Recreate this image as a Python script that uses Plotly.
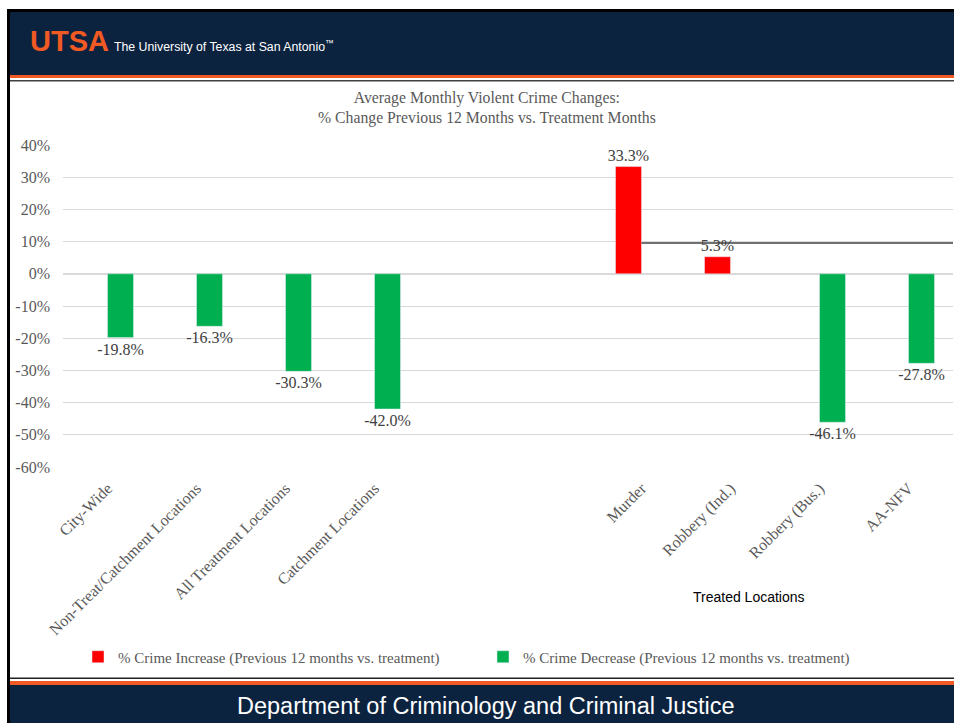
import plotly.graph_objects as go

# ---- data ----
categories = ["City-Wide", "Non-Treat/Catchment Locations", "All Treatment Locations",
              "Catchment Locations", "", "", "Murder", "Robbery (Ind.)",
              "Robbery (Bus.)", "AA-NFV"]
increase_pos = [6, 7]
increase_vals = [33.3, 5.3]
decrease_pos = [0, 1, 2, 3, 8, 9]
decrease_vals = [-19.8, -16.3, -30.3, -42.0, -46.1, -27.8]
y_ticks = [40, 30, 20, 10, 0, -10, -20, -30, -40, -50, -60]

W, H = 954, 723
L, R, T, B = 63, 953, 145, 467  # plot area in px

def px(x):
    return (x - L) / (R - L)

def py(y):
    return (B - y) / (B - T)

NAVY = "#0c2340"
ORANGE = "#f15a22"
SERIF = "Liberation Serif"
SANS = "Liberation Sans"
GRAY = "#595959"
BW = 0.292  # bar width in category units

fig = go.Figure()
fig.add_trace(go.Bar(
    x=increase_pos, y=increase_vals, name="% Crime Increase (Previous 12 months vs. treatment)",
    marker_color="#ff0000", width=BW, offset=-BW, texttemplate="%{y:.1f}%", textposition="outside",
    constraintext="none", hoverinfo="skip",
    textfont=dict(family=SERIF, size=16, color="#404040"), cliponaxis=False,
))
fig.add_trace(go.Bar(
    x=decrease_pos, y=decrease_vals, name="% Crime Decrease (Previous 12 months vs. treatment)",
    marker_color="#00b050", width=BW, offset=0, texttemplate="%{y:.1f}%", textposition="outside",
    constraintext="none", hoverinfo="skip",
    textfont=dict(family=SERIF, size=16, color="#404040"), cliponaxis=False,
))

shapes = []
# top border / header
shapes.append(dict(type="rect", xref="paper", yref="paper", x0=px(7), x1=px(W), y0=py(9), y1=py(12),
                   fillcolor="#000000", line_width=0, layer="above"))
shapes.append(dict(type="rect", xref="paper", yref="paper", x0=px(7), x1=px(10), y0=py(9), y1=py(H),
                   fillcolor="#000000", line_width=0, layer="above"))
shapes.append(dict(type="rect", xref="paper", yref="paper", x0=px(10), x1=px(W), y0=py(12), y1=py(75),
                   fillcolor=NAVY, line_width=0, layer="above"))
shapes.append(dict(type="rect", xref="paper", yref="paper", x0=px(10), x1=px(W), y0=py(75), y1=py(78),
                   fillcolor=ORANGE, line_width=0, layer="above"))
shapes.append(dict(type="rect", xref="paper", yref="paper", x0=px(10), x1=px(W), y0=py(80), y1=py(81.5),
                   fillcolor="#404040", line_width=0, layer="above"))
# footer
shapes.append(dict(type="rect", xref="paper", yref="paper", x0=px(10), x1=px(W), y0=py(677.5), y1=py(679),
                   fillcolor="#202020", line_width=0, layer="above"))
shapes.append(dict(type="rect", xref="paper", yref="paper", x0=px(10), x1=px(W), y0=py(681), y1=py(685),
                   fillcolor=ORANGE, line_width=0, layer="above"))
shapes.append(dict(type="rect", xref="paper", yref="paper", x0=px(10), x1=px(W), y0=py(685), y1=py(H),
                   fillcolor=NAVY, line_width=0, layer="above"))
# decorative dark line
shapes.append(dict(type="line", xref="x", yref="y", x0=6, x1=9.5, y0=9.6, y1=9.6,
                   line=dict(color="#404040", width=1.5), layer="above"))

annotations = [
    dict(text="<b>UTSA</b>", x=px(28), y=py(41), xref="paper", yref="paper", xanchor="left",
         yanchor="middle", showarrow=False, font=dict(family=SANS, size=29, color=ORANGE)),
    dict(text="The University of Texas at San Antonio<sup>™</sup>", x=px(112), y=py(46), xref="paper",
         yref="paper", xanchor="left", yanchor="middle", showarrow=False,
         font=dict(family=SANS, size=12.3, color="#ffffff")),
    dict(text="Department of Criminology and Criminal Justice", x=px(486), y=py(706), xref="paper",
         yref="paper", xanchor="center", yanchor="middle", showarrow=False,
         font=dict(family=SANS, size=23.5, color="#ffffff")),
    dict(text="Average Monthly Violent Crime Changes:<br>% Change Previous 12 Months vs. Treatment Months",
         x=px(487), y=py(108), xref="paper", yref="paper", xanchor="center", yanchor="middle",
         showarrow=False, font=dict(family=SERIF, size=15.75, color=GRAY)),
    dict(text="Treated Locations", x=px(749), y=py(597), xref="paper", yref="paper",
         xanchor="center", yanchor="middle", showarrow=False,
         font=dict(family=SANS, size=14, color="#000000")),
]

tick_pos = [i for i, c in enumerate(categories) if c]
tick_txt = [c for c in categories if c]

fig.update_layout(
    width=W, height=H,
    margin=dict(l=L, r=W - R, t=T, b=H - B, autoexpand=False),
    paper_bgcolor="#ffffff", plot_bgcolor="#ffffff",
    barmode="overlay",
    showlegend=True,
    legend=dict(orientation="h", x=px(78), y=py(657), xanchor="left", yanchor="middle",
                font=dict(family=SERIF, size=15, color=GRAY), entrywidth=360, itemwidth=30,
                itemclick=False, bgcolor="rgba(0,0,0,0)"),
    xaxis=dict(range=[-0.5, 9.5], tickmode="array", tickvals=tick_pos,
               ticktext=tick_txt, tickangle=-45, showgrid=False, zeroline=False,
               showline=False, ticks="", ticklabelstandoff=8,
               tickfont=dict(family=SERIF, size=16, color=GRAY), automargin=False),
    yaxis=dict(range=[-60, 40], tickmode="array", tickvals=y_ticks,
               ticktext=[f"{v}%" for v in y_ticks], showgrid=True, gridcolor="#d9d9d9",
               gridwidth=1, zeroline=True, zerolinecolor="#d9d9d9", zerolinewidth=1.5,
               showline=False, ticks="", ticklabelstandoff=12,
               tickfont=dict(family=SERIF, size=16, color=GRAY), automargin=False),
    shapes=shapes, annotations=annotations,
)

fig.write_html("out.html", config={"displayModeBar": False},
               post_script="document.body.style.margin='0';document.body.style.overflow='hidden';")
